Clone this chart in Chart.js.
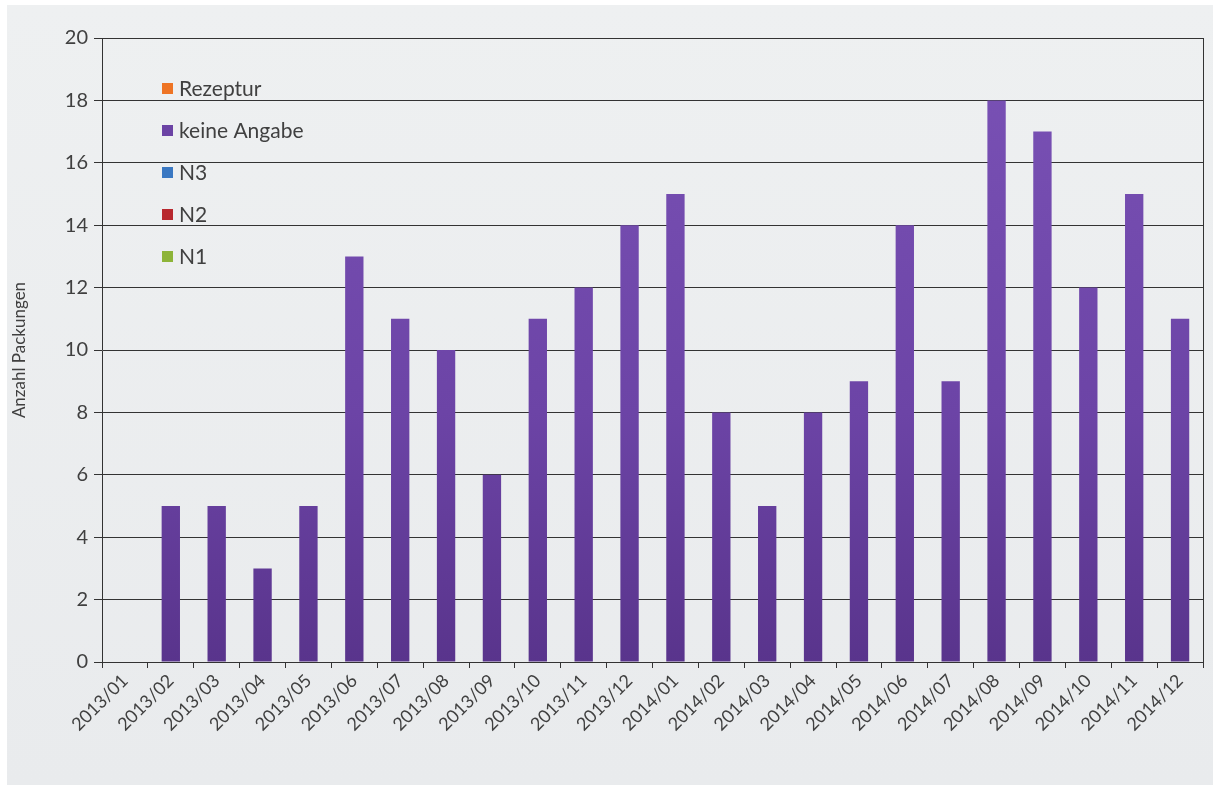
<!DOCTYPE html>
<html>
<head>
<meta charset="utf-8">
<script src="https://cdn.jsdelivr.net/npm/chart.js@4.4.1/dist/chart.umd.min.js"></script>
<style>
  html, body { margin: 0; padding: 0; background: #ffffff; }
  #wrap {
    position: absolute; left: 7px; top: 5px; width: 1206px; height: 780px;
    background: linear-gradient(180deg, #eef0f1 0%, #e9ebed 100%);
  }
</style>
</head>
<body>
<div id="wrap"><canvas id="chart" width="1206" height="780"></canvas></div>
<script>
'use strict';

// categories (months)
var months = [
  '2013/01', '2013/02', '2013/03', '2013/04', '2013/05', '2013/06',
  '2013/07', '2013/08', '2013/09', '2013/10', '2013/11', '2013/12',
  '2014/01', '2014/02', '2014/03', '2014/04', '2014/05', '2014/06',
  '2014/07', '2014/08', '2014/09', '2014/10', '2014/11', '2014/12'
];

// series values (only "keine Angabe" has packages)
var n1 = [0, 0, 0, 0, 0, 0, 0, 0, 0, 0, 0, 0, 0, 0, 0, 0, 0, 0, 0, 0, 0, 0, 0, 0];
var n2 = [0, 0, 0, 0, 0, 0, 0, 0, 0, 0, 0, 0, 0, 0, 0, 0, 0, 0, 0, 0, 0, 0, 0, 0];
var n3 = [0, 0, 0, 0, 0, 0, 0, 0, 0, 0, 0, 0, 0, 0, 0, 0, 0, 0, 0, 0, 0, 0, 0, 0];
var keineAngabe = [0, 5, 5, 3, 5, 13, 11, 10, 6, 11, 12, 14, 15, 8, 5, 8, 9, 14, 9, 18, 17, 12, 15, 11];
var rezeptur = [0, 0, 0, 0, 0, 0, 0, 0, 0, 0, 0, 0, 0, 0, 0, 0, 0, 0, 0, 0, 0, 0, 0, 0];

// y tick range
var yMin = 0, yMax = 20, yStep = 2;

var colors = {
  n1: '#8db438',
  n2: '#b8282e',
  n3: '#3a78c2',
  purple: '#6b43a4',
  orange: '#ee7424'
};

var textColor = '#404040';
var fontFamily = 'Lato, "Open Sans", sans-serif';

//purple bars fade darker to the bottom
function purpleGradient(context) {
  var chart = context.chart;
  var area = chart.chartArea;
  if (!area) return colors.purple;
  var g = chart.ctx.createLinearGradient(0, area.top, 0, area.bottom);
  g.addColorStop(0, '#7a52b6');
  g.addColorStop(0.6, '#6c44a6');
  g.addColorStop(1, '#59348c');
  return g;
}

//legend drawn inside the plot, top-left, like the original
var innerLegend = {
  id: 'innerLegend',
  afterDraw: function(chart) {
    var ctx = chart.ctx;
    var area = chart.chartArea;
    var items = chart.data.datasets.slice().reverse();
    ctx.save();
    ctx.font = '21px ' + fontFamily;
    ctx.textBaseline = 'middle';
    items.forEach(function(ds, i) {
      var y = area.top + 50 + i * 42;
      var x = area.left + 60;
      ctx.fillStyle = ds.legendColor;
      ctx.fillRect(x, y - 5, 11, 11);
      ctx.fillStyle = textColor;
      ctx.fillText(ds.label, x + 17, y + 1);
    });
    // right border of the plot area
    ctx.strokeStyle = '#333333';
    ctx.lineWidth = 1;
    ctx.beginPath();
    ctx.moveTo(Math.round(area.right) + 0.5, area.top);
    ctx.lineTo(Math.round(area.right) + 0.5, area.bottom + 6);
    ctx.stroke();
    ctx.restore();
  }
};

var config = {
  type: 'bar',
  data: {
    labels: months,
    datasets: [
      { label: 'N1', data: n1, backgroundColor: colors.n1, legendColor: colors.n1 },
      { label: 'N2', data: n2, backgroundColor: colors.n2, legendColor: colors.n2 },
      { label: 'N3', data: n3, backgroundColor: colors.n3, legendColor: colors.n3 },
      { label: 'keine Angabe', data: keineAngabe, backgroundColor: purpleGradient, legendColor: colors.purple },
      { label: 'Rezeptur', data: rezeptur, backgroundColor: colors.orange, legendColor: colors.orange }
    ]
  },
  options: {
    responsive: false,
    animation: false,
    layout: { padding: { top: 33, right: 10, left: 0, bottom: 0 } },
    datasets: {
      bar: { barPercentage: 0.4, categoryPercentage: 1.0, borderWidth: 0 }
    },
    plugins: {
      legend: { display: false },
      tooltip: { enabled: false }
    },
    scales: {
      x: {
        stacked: true,
        grid: {
          display: true, drawOnChartArea: false, drawTicks: true,
          tickLength: 6, color: '#333333', offset: true
        },
        border: { display: true, color: '#333333', width: 1 },
        ticks: {
          color: textColor, font: { family: fontFamily, size: 18 },
          minRotation: 45, maxRotation: 45, autoSkip: false, padding: 2
        },
        afterFit: function(scale) { scale.height = 123; }
      },
      y: {
        stacked: true,
        min: yMin,
        max: yMax,
        grid: { color: '#333333', lineWidth: 1, tickLength: 8 },
        border: { display: true, color: '#333333', width: 1 },
        ticks: {
          stepSize: yStep, color: textColor,
          font: { family: fontFamily, size: 20 }, padding: 6
        },
        title: {
          display: true, text: 'Anzahl Packungen', color: textColor,
          font: { family: fontFamily, size: 17 }, padding: { top: 2, bottom: 10 }
        },
        afterFit: function(scale) { scale.width = 95; }
      }
    }
  },
  plugins: [innerLegend]
};

var ctx = document.getElementById('chart').getContext('2d');
window.myBar = new Chart(ctx, config);
</script>
</body>
</html>
